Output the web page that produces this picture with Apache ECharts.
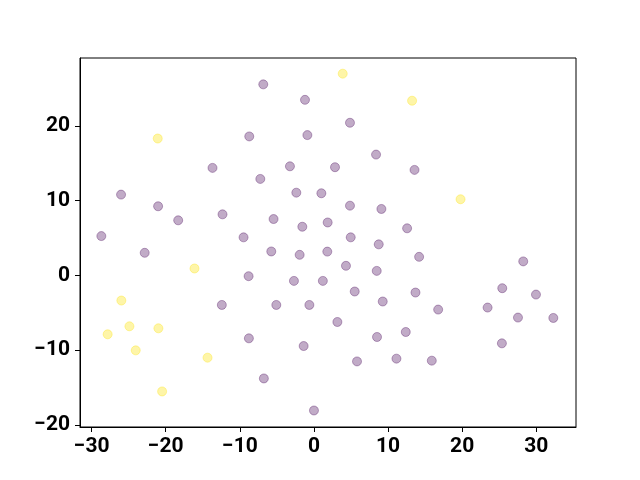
<!DOCTYPE html>
<html>
<head>
<meta charset="utf-8">
<script src="https://cdn.jsdelivr.net/npm/echarts@6/dist/echarts.min.js"></script>
<style>
  html, body { margin: 0; padding: 0; background: #fff; }
  #chart { width: 640px; height: 480px; }
</style>
</head>
<body>
<div id="chart"></div>
<script>
// class 0 points (purple)
var purpleX = [-6.84, -1.21, -8.73, -0.89, -13.69, -3.24, -7.24, -26.03, -2.38, 1.0,
    -21.03, -18.32, -12.34, -5.45, -1.57, 1.85, -28.69, -9.5, 4.86, 8.38,
    2.84, 13.57, 4.86, 9.1, 12.57, 4.96, -22.84, -5.76, -1.93, 1.8,
    -8.82, -2.7, 1.2, -12.43, -5.08, -0.62, -8.78, -1.39, -6.76, 0.0,
    8.74, 14.19, 4.32, 8.47, 28.24, 5.5, 9.28, 13.7, 16.76, 25.41,
    29.96, 23.43, 27.53, 32.3, 3.16, 12.39, 8.51, 25.36, 5.81, 11.13, 15.9];
var purpleY = [25.57, 23.5, 18.6, 18.78, 14.39, 14.6, 12.91, 10.81, 11.07, 10.99,
    9.25, 7.37, 8.17, 7.54, 6.51, 7.08, 5.26, 5.09, 20.43, 16.17,
    14.48, 14.12, 9.33, 8.89, 6.3, 5.09, 3.02, 3.2, 2.75, 3.18,
    -0.11, -0.74, -0.74, -3.96, -3.96, -3.96, -8.43, -9.46, -13.8, -18.09,
    4.15, 2.48, 1.28, 0.6, 1.87, -2.16, -3.5, -2.3, -4.58, -1.72,
    -2.57, -4.31, -5.65, -5.7, -6.24, -7.58, -8.25, -9.1, -11.52, -11.15, -11.42];

// class 1 points (yellow)
var yellowX = [3.88, 13.24, -21.08, 19.78, -16.12, -25.99, -24.9, -20.99, -27.84, -24.05, -14.36, -20.49];
var yellowY = [27.0, 23.38, 18.32, 10.19, 0.92, -3.37, -6.82, -7.09, -7.89, -10.04, -11.02, -15.54];

var xTicks = [-30, -20, -10, 0, 10, 20, 30];
var yTicks = [-20, -10, 0, 10, 20];

function pairs(xs, ys) {
    var out = [];
    for (var i = 0; i < xs.length; i++) {
        out.push([xs[i], ys[i]]);
    }
    return out;
}

var labelStyle = {
    fontFamily: 'Roboto',
    fontWeight: 'bold',
    fontSize: 21,
    color: '#000',
    formatter: function (v) {
        return String(v).replace('-', '\u2212');
    }
};

var chart = echarts.init(document.getElementById('chart'), null, { renderer: 'canvas' });

var option = {
    backgroundColor: '#fff',
    animation: false,
    grid: {
        left: 80,
        right: 64,
        top: 58,
        bottom: 53,
        show: true,
        borderColor: '#000',
        borderWidth: 1,
        backgroundColor: '#fff'
    },
    xAxis: {
        type: 'value',
        min: -31.57,
        max: 35.36,
        splitLine: { show: false },
        axisLine: { show: true, onZero: false, lineStyle: { color: '#000', width: 1 } },
        axisTick: {
            show: true, inside: false, length: 5,
            lineStyle: { color: '#000', width: 1 },
            customValues: xTicks
        },
        axisLabel: Object.assign({ margin: 9, customValues: xTicks }, labelStyle)
    },
    yAxis: {
        type: 'value',
        min: -20.3,
        max: 29.1,
        splitLine: { show: false },
        axisLine: { show: true, onZero: false, lineStyle: { color: '#000', width: 1 } },
        axisTick: {
            show: true, inside: false, length: 5,
            lineStyle: { color: '#000', width: 1 },
            customValues: yTicks
        },
        axisLabel: Object.assign({ margin: 10, customValues: yTicks }, labelStyle)
    },
    series: [{
        type: 'scatter',
        symbol: 'circle',
        symbolSize: 9,
        data: pairs(purpleX, purpleY),
        itemStyle: {
            color: '#440154',
            borderColor: '#440154',
            borderWidth: 1,
            opacity: 0.33
        }
    }, {
        type: 'scatter',
        symbol: 'circle',
        symbolSize: 9,
        data: pairs(yellowX, yellowY),
        itemStyle: {
            color: '#fde725',
            borderColor: '#fde725',
            borderWidth: 1,
            opacity: 0.4
        }
    }]
};

chart.setOption(option);
</script>
</body>
</html>
